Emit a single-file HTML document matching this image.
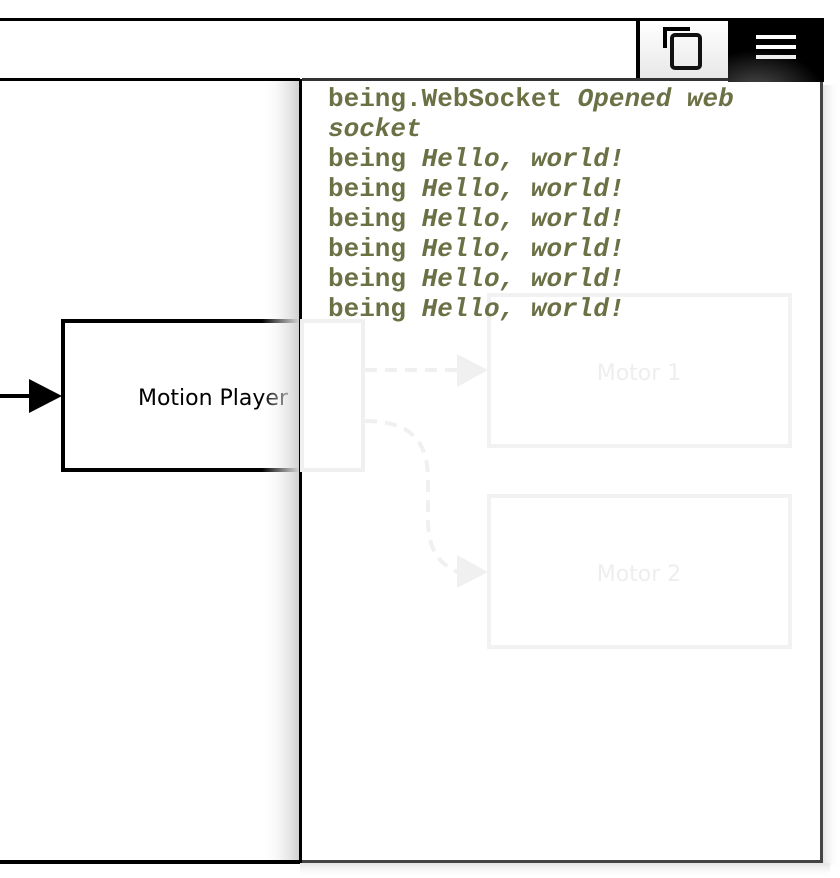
<!DOCTYPE html>
<html><head><style>
html,body{margin:0;padding:0;width:840px;height:878px;overflow:hidden;background:#fff;position:relative}
.abs{position:absolute}
#log{font-family:"Liberation Mono",monospace;font-weight:bold;font-size:26px;line-height:30px;color:#6b7045;white-space:pre-wrap}
#log i{font-style:italic}
</style></head><body>
<svg class="abs" style="left:0;top:0" width="840" height="878">
  <defs><linearGradient id="sh" x1="0" x2="1"><stop offset="0" stop-color="#fff" stop-opacity="0"/><stop offset="1" stop-color="#d0d0d0"/></linearGradient>
  <linearGradient id="shr" x1="0" x2="1"><stop offset="0" stop-color="#e4e4e4"/><stop offset="1" stop-color="#fff" stop-opacity="0"/></linearGradient>
  <linearGradient id="shb" x1="0" y1="0" x2="0" y2="1"><stop offset="0" stop-color="#e4e4e4"/><stop offset="1" stop-color="#fff" stop-opacity="0"/></linearGradient>
  <linearGradient id="cb" x1="0" y1="0" x2="0" y2="1"><stop offset="0" stop-color="#fff"/><stop offset="1" stop-color="#e8e8e8"/></linearGradient>
  <radialGradient id="hb" cx="0.3" cy="1.2" r="1"><stop offset="0" stop-color="#555"/><stop offset="0.7" stop-color="#000"/></radialGradient></defs>
  <!-- top bar -->
  <rect x="0" y="18" width="824" height="3" fill="#000"/>
  <rect x="0" y="78" width="300" height="3" fill="#000"/>
  <rect x="0" y="860" width="300" height="4" fill="#000"/>
  <!-- incoming arrow -->
  <line x1="0" y1="396" x2="34" y2="396" stroke="#000" stroke-width="4"/>
  <polygon points="29,379 62,396 29,413" fill="#000"/>
  <!-- motion player -->
  <rect x="63" y="321" width="300" height="149" fill="#fff" stroke="#000" stroke-width="4"/>
  <text x="213" y="405" font-family="'DejaVu Sans','Liberation Sans',sans-serif" font-size="22" text-anchor="middle" fill="#000">Motion Player</text>
  <rect x="262" y="81" width="37" height="779" fill="url(#sh)"/>
  <!-- panel shadow -->
  <rect x="300" y="863" width="530" height="15" fill="url(#shb)"/>
  <rect x="823" y="85" width="17" height="780" fill="url(#shr)"/>
  <!-- panel -->
  <rect x="299" y="79" width="524" height="784" fill="#fff"/>
  <rect x="820" y="79" width="3" height="784" fill="#444"/>
  <rect x="299" y="860" width="524" height="3" fill="#444"/>
  <rect x="299" y="79" width="3" height="784" fill="#000"/>
  <rect x="302" y="78" width="521" height="3" fill="#333"/>
  <!-- faint diagram inside panel -->
  <rect x="302" y="321" width="61" height="149" fill="none" stroke="#f0f0f0" stroke-width="4"/>
  <path d="M365,370 L458,370" stroke="#f0f0f0" stroke-width="4" stroke-dasharray="12,8" fill="none"/>
  <polygon points="457,354 488,370 457,387" fill="#f0f0f0"/>
  <path d="M365,421 C410,421 428,440 428,480 L428,520 C428,550 440,565 458,572" stroke="#f0f0f0" stroke-width="4" stroke-dasharray="12,8" fill="none"/>
  <polygon points="457,555 488,572 457,588" fill="#f0f0f0"/>
  <rect x="489" y="295" width="301" height="151" fill="none" stroke="#f2f2f2" stroke-width="4"/>
  <rect x="489" y="496" width="301" height="151" fill="none" stroke="#f2f2f2" stroke-width="4"/>
  <text x="639" y="380" font-family="'DejaVu Sans','Liberation Sans',sans-serif" font-size="22" text-anchor="middle" fill="#eee">Motor 1</text>
  <text x="639" y="581" font-family="'DejaVu Sans','Liberation Sans',sans-serif" font-size="22" text-anchor="middle" fill="#eee">Motor 2</text>
  <!-- toolbar buttons -->
  <rect x="636" y="21" width="4" height="57" fill="#000"/>
  <rect x="640" y="21" width="88" height="57" fill="url(#cb)"/>
  <path d="M665,48 L665,29 L690,29" stroke="#000" stroke-width="4" fill="none"/>
  <rect x="672" y="35" width="28" height="33" rx="3" fill="none" stroke="#111" stroke-width="4"/>
  <rect x="728" y="18" width="96" height="64" fill="url(#hb)"/>
  <rect x="756" y="35" width="40" height="4" fill="#fff"/>
  <rect x="756" y="45" width="40" height="4" fill="#fff"/>
  <rect x="756" y="55" width="40" height="4" fill="#eee"/>
</svg>
<div id="log" class="abs" style="left:328px;top:84px;width:480px">being.WebSocket <i>Opened web socket</i>
being <i>Hello, world!</i>
being <i>Hello, world!</i>
being <i>Hello, world!</i>
being <i>Hello, world!</i>
being <i>Hello, world!</i>
being <i>Hello, world!</i></div>
</body></html>
